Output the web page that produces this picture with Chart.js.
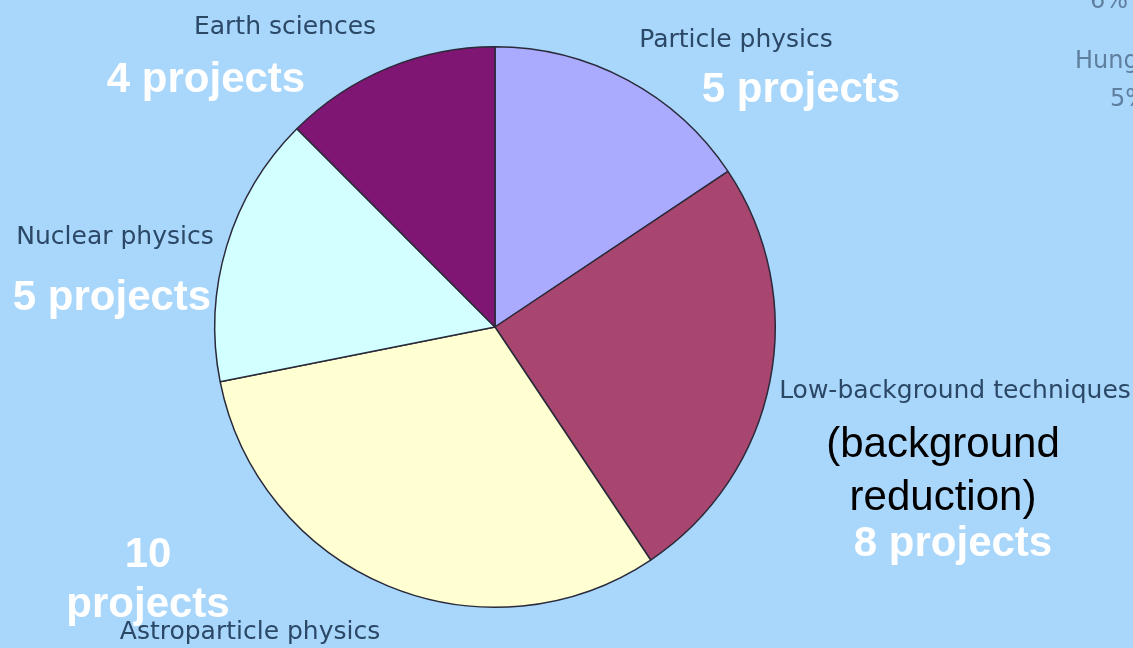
<!DOCTYPE html>
<html lang="en">
<head>
    <meta charset="UTF-8">
    <title>Projects by field</title>
    <script src="https://cdn.jsdelivr.net/npm/chart.js"></script>
    <style>
        html, body {
            margin: 0;
            padding: 0;
            background-color: #a9d6fb;
            overflow: hidden;
        }
        .wrap {
            width: 1133px;
            height: 648px;
            position: relative;
        }
    </style>
</head>
<body>
    <div class="wrap">
        <canvas id="fieldChart" width="1133" height="648"></canvas>
    </div>

    <script>
        // Data, clockwise from the top
        const categories = ['Particle physics', 'Low-background techniques', 'Astroparticle physics', 'Nuclear physics', 'Earth sciences'];
        const projectCounts = [5, 8, 10, 5, 4];
        const sliceColors = ['#aaaaff', '#a8466f', '#ffffd2', '#d2ffff', '#7f1673'];

        // Where each field's name and count sit on the page
        const labelSpots = [
            { name: [736, 40], count: [[801, 90]] },
            { name: [955, 391], count: [[953, 544]], note: [[943, 445], [943, 498]] },
            { name: [250, 632], count: [[148, 555], [148, 605]], split: true },
            { name: [115, 237], count: [[112, 298]] },
            { name: [285, 27], count: [[206, 80]] }
        ];
        const noteLines = ['(background', 'reduction)'];

        const labelPlugin = {
            id: 'fieldLabels',
            afterDraw(chart) {
                const ctx = chart.ctx;
                ctx.save();
                ctx.textBaseline = 'middle';

                // faded text from a neighbouring chart, cut off at the edge
                ctx.textAlign = 'left';
                ctx.fillStyle = '#5f7f9e';
                ctx.font = '24px "DejaVu Sans"';
                ctx.fillText('6%', 1090, 2);
                ctx.fillText('Hungary', 1075, 62);
                ctx.fillText('5%', 1110, 100);

                ctx.textAlign = 'center';
                // grey field names
                ctx.fillStyle = '#2b4866';
                ctx.font = '25px "DejaVu Sans"';
                categories.forEach((c, i) => {
                    const p = labelSpots[i].name;
                    ctx.fillText(c, p[0], p[1]);
                });

                // black note
                ctx.fillStyle = '#000000';
                ctx.font = '42px "Liberation Sans"';
                labelSpots.forEach(s => {
                    if (!s.note) return;
                    s.note.forEach((p, k) => ctx.fillText(noteLines[k], p[0], p[1]));
                });

                // white counts
                ctx.fillStyle = '#ffffff';
                ctx.font = 'bold 42px "Liberation Sans"';
                projectCounts.forEach((v, i) => {
                    const s = labelSpots[i];
                    const lines = s.split ? [String(v), 'projects'] : [v + ' projects'];
                    lines.forEach((t, k) => ctx.fillText(t, s.count[k][0], s.count[k][1]));
                });
                ctx.restore();
            }
        };

        const ctx = document.getElementById('fieldChart').getContext('2d');
        new Chart(ctx, {
            type: 'pie',
            data: {
                labels: categories,
                datasets: [{
                    data: projectCounts,
                    backgroundColor: sliceColors,
                    borderColor: '#2a2a3a',
                    borderWidth: 1.5
                }]
            },
            options: {
                responsive: false,
                animation: false,
                layout: {
                    padding: { left: 214, right: 357, top: 46, bottom: 40 }
                },
                plugins: {
                    legend: { display: false },
                    tooltip: { enabled: false }
                }
            },
            plugins: [labelPlugin]
        });
    </script>
</body>
</html>
